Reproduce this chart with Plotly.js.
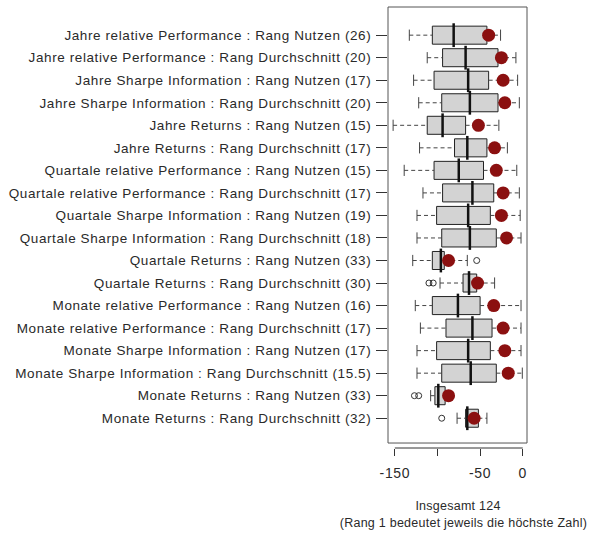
<!DOCTYPE html>
<html>
<head>
<meta charset="utf-8">
<script src="https://cdn.plot.ly/plotly-3.0.1.min.js"></script>
<style>
html,body{margin:0;padding:0;background:#fff;}
#chart{width:594px;height:534px;}
#chart .ytick text{letter-spacing:0.6px;}
#chart .xtick text{letter-spacing:0.6px;}
#chart .annotation-text{letter-spacing:0.25px;}
</style>
</head>
<body>
<div id="chart"></div>
<script>
var categories = [
"Jahre relative Performance : Rang Nutzen (26)",
"Jahre relative Performance : Rang Durchschnitt (20)",
"Jahre Sharpe Information : Rang Nutzen (17)",
"Jahre Sharpe Information : Rang Durchschnitt (20)",
"Jahre Returns : Rang Nutzen (15)",
"Jahre Returns : Rang Durchschnitt (17)",
"Quartale relative Performance : Rang Nutzen (15)",
"Quartale relative Performance : Rang Durchschnitt (17)",
"Quartale Sharpe Information : Rang Nutzen (19)",
"Quartale Sharpe Information : Rang Durchschnitt (18)",
"Quartale Returns : Rang Nutzen (33)",
"Quartale Returns : Rang Durchschnitt (30)",
"Monate relative Performance : Rang Nutzen (16)",
"Monate relative Performance : Rang Durchschnitt (17)",
"Monate Sharpe Information : Rang Nutzen (17)",
"Monate Sharpe Information : Rang Durchschnitt (15.5)",
"Monate Returns : Rang Nutzen (33)",
"Monate Returns : Rang Durchschnitt (32)"
];
var lowerWhisker = [-133,-112,-128,-122,-152,-121,-139,-117,-124,-124,-129,-97,-126,-120,-124,-124,-108,-77];
var q1Values     = [-106,-94,-104,-95,-112,-80,-104,-94,-101,-95,-106,-70,-106,-90,-101,-95,-103,-67];
var medianValues = [-81,-67,-64,-62,-94,-65,-75,-59,-64,-62,-96,-63,-76,-59,-64,-61,-99,-65];
var q3Values     = [-42,-29,-40,-29,-67,-42,-46,-34,-38,-31,-92,-54,-50,-36,-38,-31,-91,-52];
var upperWhisker = [-26,-8,-6,-4,-28,-18,-7,-4,-3,-2,-65,-33,-2,-2,-2,-0.5,-86,-42];
var markerValues = [-40,-25,-23,-21,-52,-33,-31,-23,-25,-19,-87,-53,-34,-23,-21,-17,-87,-57];
var outlierCategories = [
"Quartale Returns : Rang Nutzen (33)",
"Quartale Returns : Rang Durchschnitt (30)",
"Quartale Returns : Rang Durchschnitt (30)",
"Monate Returns : Rang Nutzen (33)",
"Monate Returns : Rang Nutzen (33)",
"Monate Returns : Rang Durchschnitt (32)"
];
var outlierValues = [-54,-110,-105,-127,-122,-95];
var tickVals = [-150,-100,-50,0];
var tickLabels = ["-150","","-50","0"];
var xTitleLine1 = "Insgesamt 124";
var xTitleLine2 = "(Rang 1 bedeutet jeweils die höchste Zahl)";

var FONT = "'Liberation Sans', Arial, Helvetica, sans-serif";
var INK = '#2a2a2a';

// whisker segments built from the data arrays
var wx = [], wy = [], capx = [], capy = [];
for (var i = 0; i < categories.length; i++) {
  wx.push(lowerWhisker[i], q1Values[i], null, q3Values[i], upperWhisker[i], null);
  wy.push(categories[i], categories[i], null, categories[i], categories[i], null);
  capx.push(lowerWhisker[i], upperWhisker[i]);
  capy.push(categories[i], categories[i]);
}

var traces = [
  {
    type: 'scatter', mode: 'lines', x: wx, y: wy,
    line: {color: '#444', width: 1, dash: '4px,3px'},
    hoverinfo: 'skip', showlegend: false
  },
  {
    type: 'scatter', mode: 'markers', x: capx, y: capy,
    marker: {symbol: 'line-ns-open', size: 8, color: '#444', line: {color: '#444', width: 1}},
    hoverinfo: 'skip', showlegend: false
  },
  {
    type: 'box', orientation: 'h', y: categories,
    q1: q1Values, median: medianValues, q3: q3Values,
    lowerfence: q1Values, upperfence: q3Values,
    boxpoints: false, width: 0.8,
    fillcolor: '#d3d3d3',
    line: {color: '#222', width: 1},
    whiskerwidth: 0,
    showlegend: false
  },
  {
    type: 'scatter', mode: 'markers', x: medianValues, y: categories,
    marker: {symbol: 'line-ns-open', size: 17, color: '#111', line: {color: '#111', width: 2.5}},
    hoverinfo: 'skip', showlegend: false
  },
  {
    type: 'scatter', mode: 'markers', x: outlierValues, y: outlierCategories,
    marker: {symbol: 'circle-open', size: 6, color: '#333', line: {color: '#333', width: 1}},
    showlegend: false
  },
  {
    type: 'scatter', mode: 'markers', x: markerValues, y: categories,
    marker: {symbol: 'circle', size: 13, color: '#8b1010', line: {width: 0}},
    showlegend: false
  }
];

var layout = {
  width: 594, height: 534,
  margin: {l: 388, r: 67, t: 7, b: 86, pad: 0},
  paper_bgcolor: '#fff', plot_bgcolor: '#fff',
  font: {family: FONT, size: 13.5, color: INK},
  showlegend: false,
  xaxis: {
    range: [-158, 5], autorange: false,
    anchor: 'free', position: 0,
    tickvals: tickVals, ticktext: tickLabels,
    ticks: 'outside', ticklen: 7, tickcolor: '#333', tickwidth: 1,
    showgrid: false, zeroline: false, showline: false,
    ticklabelstandoff: 5,
    tickfont: {family: FONT, size: 14, color: INK}
  },
  yaxis: {
    type: 'category',
    categoryorder: 'array', categoryarray: categories,
    range: [18.1, -1.25], autorange: false,
    domain: [0.0113, 1],
    ticks: 'outside', ticklen: 11, tickcolor: '#333', tickwidth: 1,
    ticklabelstandoff: 2,
    showgrid: false, zeroline: false, showline: false,
    tickfont: {family: FONT, size: 13.5, color: INK}
  },
  shapes: [
    {type: 'rect', xref: 'paper', yref: 'paper', x0: 0, x1: 1, y0: 0.0113, y1: 1,
     line: {color: '#555', width: 1}, fillcolor: 'rgba(0,0,0,0)'},
    {type: 'line', xref: 'x', yref: 'paper',
     x0: Math.min.apply(null, tickVals), x1: Math.max.apply(null, tickVals), y0: 0, y1: 0,
     line: {color: '#333', width: 1}}
  ],
  annotations: [
    {xref: 'paper', yref: 'paper', x: 0.5, y: 0, xanchor: 'center', yanchor: 'middle',
     yshift: -58, showarrow: false, text: xTitleLine1,
     font: {family: FONT, size: 12.5, color: INK}},
    {xref: 'paper', yref: 'paper', x: 0.5, y: 0, xanchor: 'center', yanchor: 'middle',
     xshift: 6, yshift: -75, showarrow: false, text: xTitleLine2,
     font: {family: FONT, size: 12.5, color: INK}}
  ]
};

Plotly.newPlot('chart', traces, layout, {staticPlot: true, displayModeBar: false});
</script>
</body>
</html>
